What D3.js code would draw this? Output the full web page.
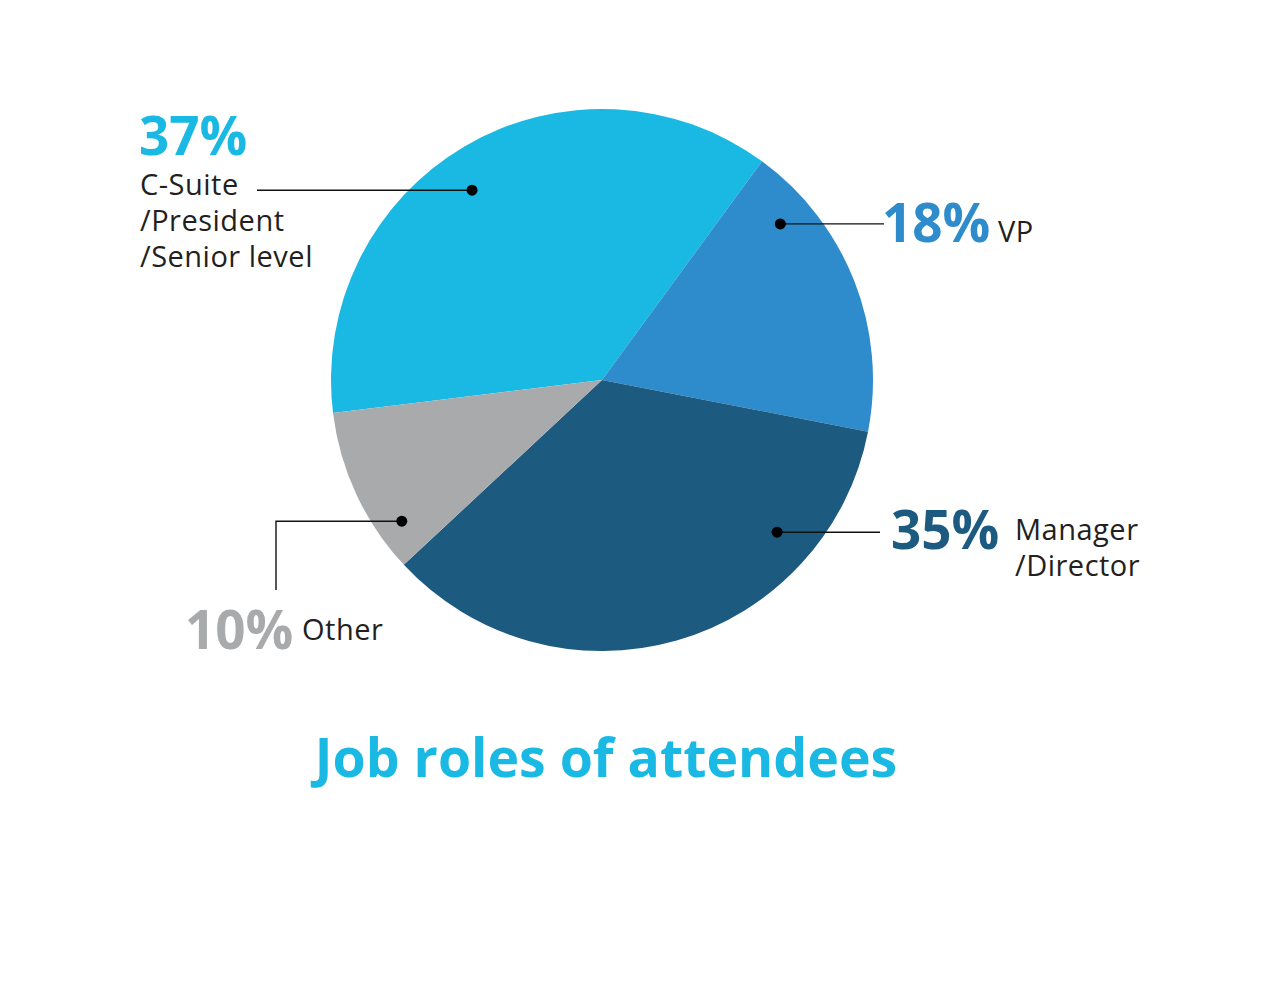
<!DOCTYPE html>
<html>
<head>
<meta charset="utf-8">
<script src="https://cdn.jsdelivr.net/npm/d3@7/dist/d3.min.js"></script>
<style>
	body { margin: 0; background: #fff; }
	text { font-family: "Open Sans", sans-serif; }
</style>
</head>
<body>
<div id="chart"></div>
<script>
// data
const categories = ["C-Suite /President /Senior level", "VP", "Manager /Director", "Other"];
const shares     = [37, 18, 35, 10];
const colors     = ["#1ab9e4", "#2e8bcc", "#1c5a80", "#a9aaac"];
const title      = "Job roles of attendees";

// label layout (angle in degrees from top, radius of the dot, text box)
const layout = [
	{ ang: -34.4, r: 230, lines: ["C-Suite", "/President", "/Senior level"], pctX: 139, pctY: 155, txtX: 140, txtY: 195, elbow: null, endX: 257 },
	{ ang: 48.8,  r: 237, lines: ["VP"], pctX: 882, pctY: 242, txtX: 998, txtY: 242, elbow: null, endX: 884 },
	{ ang: 131,   r: 232, lines: ["Manager", "/Director"], pctX: 891, pctY: 549, txtX: 1015, txtY: 540, elbow: null, endX: 880 },
	{ ang: 234.8, r: 245, lines: ["Other"], pctX: 185, pctY: 649, txtX: 302, txtY: 640, elbow: 276, endY: 590 }
];

function draw() {
	let canvasWidth  = 1280;
	let canvasHeight = 989;
	let cx = 602, cy = 380, radius = 271;

	let svg = d3.select("#chart").append("svg")
		.attr("width", canvasWidth)
		.attr("height", canvasHeight);

	let rad = (deg) => (deg * Math.PI / 180);

	let pie = d3.pie().sort(null).value((o) => o)
		.startAngle(rad(-97)).endAngle(rad(263));
	let arc = d3.arc().innerRadius(0).outerRadius(radius);

	let g = svg.append("g").attr("transform", "translate(" + cx + "," + cy + ")");

	g.selectAll("path.slice").data(pie(shares)).enter().append("path")
		.attr("class", "slice")
		.attr("d", arc)
		.attr("fill", (o, i) => colors[i]);

	// leader lines + dots
	layout.forEach((l, i) => {
		let p = d3.pointRadial(rad(l.ang), l.r);
		let px = cx + p[0], py = cy + p[1];
		let path = l.elbow != null
			? "M" + px + "," + py + "H" + l.elbow + "V" + l.endY
			: "M" + px + "," + py + "H" + l.endX;
		svg.append("path")
			.attr("d", path)
			.attr("fill", "none")
			.attr("stroke", "#111")
			.attr("stroke-width", 1.4);
		svg.append("circle")
			.attr("cx", px).attr("cy", py).attr("r", 5.5)
			.attr("fill", "#000");

		svg.append("text")
			.attr("x", l.pctX).attr("y", l.pctY)
			.attr("fill", colors[i])
			.attr("font-size", 53)
			.attr("font-weight", 700)
			.text(shares[i] + "%");

		let t = svg.append("text")
			.attr("x", l.txtX).attr("y", l.txtY)
			.attr("fill", "#231f20")
			.attr("font-size", 29)
			.attr("letter-spacing", 0.5);
		l.lines.forEach((s, k) => {
			t.append("tspan").attr("x", l.txtX).attr("dy", k === 0 ? 0 : 36).text(s);
		});
	});

	svg.append("text")
		.attr("x", 606).attr("y", 777)
		.attr("text-anchor", "middle")
		.attr("fill", "#1ab9e4")
		.attr("font-size", 53.6)
		.attr("font-weight", 700)
		.text(title);
}

draw();
</script>
</body>
</html>
